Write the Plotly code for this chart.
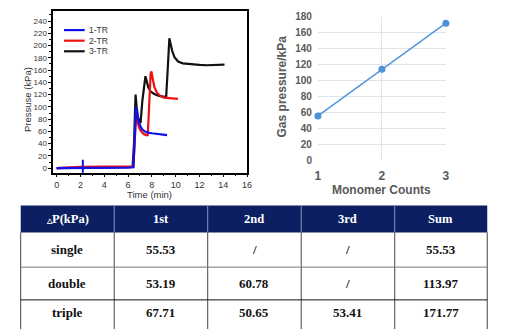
import plotly.graph_objects as go

W, H = 507, 329

# ---- pressure traces (time in min, pressure in kPa) ----
t_1tr = [0, 2, 4, 6, 6.45, 6.55, 6.68, 6.78, 6.9, 7.05, 7.2, 7.4, 7.65, 8.0, 8.45, 8.9, 9.28]
p_1tr = [0, 0, 0.5, 1, 1.5, 40, 100, 88, 76, 68, 63, 60, 58, 57, 56, 55, 54]

t_2tr = [0, 2, 4, 6, 6.45, 6.55, 6.68, 6.8, 6.95, 7.1, 7.3, 7.5, 7.65, 7.72, 7.82, 7.9,
         7.96, 8.05, 8.2, 8.4, 8.7, 9.0, 9.4, 9.8, 10.19]
p_2tr = [0, 2, 2.5, 3, 3, 40, 90, 75, 65, 60, 56, 54, 54, 80, 140, 155,
         158, 148, 133, 124, 118, 115, 114, 113.5, 113]

t_3tr = [0, 2, 4, 6, 6.38, 6.5, 6.63, 6.72, 6.82, 6.95, 7.05, 7.2, 7.35, 7.46, 7.55, 7.7,
         7.9, 8.2, 8.6, 9.0, 9.2, 9.3, 9.4, 9.47, 9.55, 9.7, 9.9, 10.2, 10.6, 11.0,
         11.5, 12.0, 12.6, 13.2, 13.8, 14.1]
p_3tr = [0, 0.5, 1, 1.5, 2, 40, 120, 100, 84, 76, 74, 110, 140, 150, 143, 132,
         125, 121, 118, 117, 116, 150, 195, 212, 205, 192, 181, 174, 171, 170,
         169, 168.5, 168, 168, 168.5, 169]

mark_t = [2.2]
mark_p = [1]

series_names = ["1-TR", "2-TR", "3-TR"]
series_colors = ["#1010ee", "#ee1111", "#111111"]

# ---- summary: gas pressure vs monomer count ----
monomer_counts = [1, 2, 3]
gas_pressure = [55.53, 113.97, 171.77]

# ---- ΔP table ----
table_header = ["<span style='font-size:7px'>△</span>P(kPa)", "1st", "2nd", "3rd", "Sum"]
row_labels = ["single", "double", "triple"]
col_1st = ["55.53", "53.19", "67.71"]
col_2nd = ["/", "60.78", "50.65"]
col_3rd = ["/", "/", "53.41"]
col_sum = ["55.53", "113.97", "171.77"]


def px(x):
    return x / W


def py(y):
    return 1 - y / H


def label(text, x, y, font, **kw):
    d = dict(text=text, x=px(x), y=py(y), xref="paper", yref="paper", showarrow=False,
             xanchor="center", yanchor="middle", font=font)
    d.update(kw)
    return d


fig = go.Figure()

# left panel traces (black under red under blue)
for t, p, name, color in [
    (t_3tr, p_3tr, series_names[2], series_colors[2]),
    (t_2tr, p_2tr, series_names[1], series_colors[1]),
    (t_1tr, p_1tr, series_names[0], series_colors[0]),
]:
    fig.add_trace(go.Scatter(x=t, y=p, mode="lines", name=name,
                             line=dict(color=color, width=2.2),
                             xaxis="x", yaxis="y", showlegend=False))
fig.add_trace(go.Scatter(x=mark_t, y=mark_p, mode="markers",
                         marker=dict(symbol="line-ns-open", size=11, color=series_colors[0],
                                     line=dict(color=series_colors[0], width=2)),
                         xaxis="x", yaxis="y", showlegend=False))

# right panel
fig.add_trace(go.Scatter(x=monomer_counts, y=gas_pressure, mode="lines+markers",
                         line=dict(color="#5596da", width=1.6),
                         marker=dict(color="#4d92d8", size=7),
                         xaxis="x2", yaxis="y2", showlegend=False, cliponaxis=False))

left_font = dict(family="Liberation Sans, Arial", size=8, color="#333")
right_font = dict(family="Liberation Sans, Arial", size=10, color="#595959")

fig.update_layout(
    width=W, height=H,
    margin=dict(l=0, r=0, t=0, b=0),
    paper_bgcolor="white", plot_bgcolor="white",
    xaxis=dict(domain=[px(51), px(248)], range=[-0.29, 16], dtick=2, tick0=0,
               showgrid=False, zeroline=False, showline=True, linecolor="black",
               linewidth=1.5, mirror=True, ticks="outside", ticklen=3,
               tickcolor="black", tickfont=dict(left_font, size=9),
               minor=dict(dtick=1, ticks="outside", ticklen=2, tickcolor="black")),
    yaxis=dict(domain=[py(173), py(5)], range=[-7.4, 256.8], dtick=20, tick0=0,
               showgrid=False, zeroline=False, showline=True, linecolor="black",
               linewidth=1.5, mirror=True, ticks="outside", ticklen=3,
               tickcolor="black", tickfont=left_font, ticklabelstandoff=0,
               minor=dict(dtick=10, ticks="outside", ticklen=2, tickcolor="black")),
    xaxis2=dict(domain=[px(320), px(450)], range=[1, 3], dtick=1,
                showgrid=True, gridcolor="#dfe4ec", gridwidth=1.2, zeroline=False,
                showline=False, ticks="", ticklabelstandoff=7,
                tickfont=dict(family="Liberation Sans, Arial", size=12, color="#595959"),
                tickprefix="<b>", ticksuffix="</b>", anchor="y2"),
    yaxis2=dict(domain=[py(160), py(11)], range=[0, 180], dtick=20,
                showgrid=True, gridcolor="#dfe4ec", gridwidth=1.2, zeroline=False,
                showline=False, ticks="", tickfont=right_font, ticklabelstandoff=5,
                tickprefix="<b>", ticksuffix="</b>", anchor="x2"),
)

annotations = []
shapes = []

# axis titles
annotations.append(label("Time (min)", 149, 196, dict(left_font, size=9.5)))
annotations.append(label("Pressuse (kPa)", 25, 97, dict(left_font, size=9.5), textangle=-90))
gray_bold = dict(family="Liberation Sans, Arial", size=12, color="#595959")
annotations.append(label("<b>Monomer Counts</b>", 385, 191, gray_bold))
annotations.append(label("<b>Gas pressure/kPa</b>", 283, 84, gray_bold, textangle=-90))

# legend inside the left panel
for i, (name, color) in enumerate(zip(series_names, series_colors)):
    yy = 25 + 11 * i
    shapes.append(dict(type="line", xref="paper", yref="paper", x0=px(62), x1=px(83),
                       y0=py(yy), y1=py(yy), line=dict(color=color, width=2.2)))
    annotations.append(label(name, 85, yy, dict(left_font, size=8.5), xanchor="left"))

# table
col_x = [18, 113, 208, 303, 398, 492]
row_y = [207, 235, 271, 305, 341]
navy = "#0b1f62"
shapes.append(dict(type="rect", xref="paper", yref="paper", x0=px(col_x[0]), x1=px(col_x[-1]),
                   y0=py(row_y[0]), y1=py(row_y[1]), fillcolor=navy, line=dict(width=0),
                   layer="below"))
for cx in col_x[1:-1]:
    shapes.append(dict(type="line", xref="paper", yref="paper", x0=px(cx), x1=px(cx),
                       y0=py(row_y[0]), y1=py(row_y[1]), line=dict(color="#8a97bd", width=1)))
for cx in col_x:
    shapes.append(dict(type="line", xref="paper", yref="paper", x0=px(cx), x1=px(cx),
                       y0=py(row_y[1]), y1=py(row_y[-1]), line=dict(color="#444", width=1)))
for ry, col in [(row_y[2], "#777"), (row_y[3], "#111")]:
    shapes.append(dict(type="line", xref="paper", yref="paper", x0=px(col_x[0]), x1=px(col_x[-1]),
                       y0=py(ry), y1=py(ry), line=dict(color=col, width=1)))

serif = "Liberation Serif, Times New Roman"
centers = [(col_x[i] + col_x[i + 1]) / 2 for i in range(5)]
for i, h in enumerate(table_header):
    annotations.append(label(f"<b>{h}</b>", centers[i], 221,
                             dict(family=serif, size=12.5, color="white")))
row_text_y = [253, 288, 318]
columns = [row_labels, col_1st, col_2nd, col_3rd, col_sum]
for r in range(3):
    for c in range(5):
        annotations.append(label(f"<b>{columns[c][r]}</b>", centers[c], row_text_y[r],
                                 dict(family=serif, size=13, color="#111")))

fig.update_layout(annotations=annotations, shapes=shapes)
fig.write_html("out.html")
